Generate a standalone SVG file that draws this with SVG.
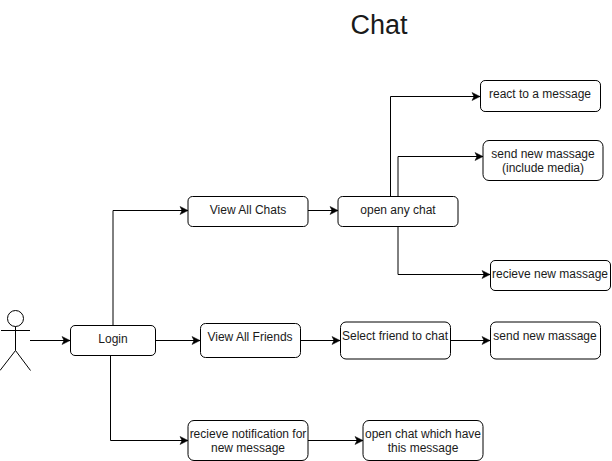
<svg xmlns="http://www.w3.org/2000/svg" width="612" height="461" viewBox="0 0 612 461">
<style>
text{font-family:"Liberation Sans",Arial,sans-serif;font-size:12px;fill:#1a1a1a;text-anchor:middle}
.n{fill:#fff;stroke:#000;stroke-width:1}
.c{fill:none;stroke:#000;stroke-width:1;marker-end:url(#a)}
.g{fill:none;stroke:#000;stroke-width:1}
</style>
<defs><marker id="a" markerUnits="userSpaceOnUse" markerWidth="10" markerHeight="10" refX="9" refY="5" orient="auto"><path d="M1 1L9 5L1 9L3 5Z" fill="#000" stroke="#000" stroke-width="0.5"/></marker></defs>
<rect width="612" height="461" fill="#fff"/>
<g id="connectors">
<path class="c" d="M30 340.5H70"/>
<path class="c" d="M113 325V210.5H188"/>
<path class="c" d="M155 340.5H200"/>
<path class="c" d="M110.5 355V440.5H188"/>
<path class="c" d="M308 210.5H338"/>
<path class="c" d="M300 340.5H340"/>
<path class="c" d="M308 440.5H363"/>
<path class="c" d="M450 340.5H490"/>
<path class="c" d="M390.5 196V96.5H480"/>
<path class="c" d="M398 196V156.5H483"/>
<path class="c" d="M398 226V274.5H490"/>
</g>
<g id="title"><text x="379" y="34" style="font-size:27px">Chat</text></g>
<g id="actor"><circle class="g" cx="15.5" cy="318.5" r="8"/><path class="g" d="M15.5 326.5V350.5M1 330.5H30M15.5 350.5L0 370.5M15.5 350.5L30.5 370.5"/></g>
<g id="login"><rect class="n" x="70.5" y="325.5" width="85" height="30" rx="4.5"/><text x="113" y="343">Login</text></g>
<g id="view-chats"><rect class="n" x="188" y="196.5" width="120" height="30" rx="4.5"/><text x="248" y="214">View All Chats</text></g>
<g id="view-friends"><rect class="n" x="200.5" y="323.5" width="100" height="34" rx="5"/><text x="250" y="341">View All Friends</text></g>
<g id="notification"><rect class="n" x="188" y="420.5" width="120" height="40" rx="6"/><text x="248" y="438">recieve notification for</text><text x="248" y="452">new message</text></g>
<g id="open-any"><rect class="n" x="338" y="196.5" width="120" height="30" rx="4.5"/><text x="398" y="214">open any chat</text></g>
<g id="select"><rect class="n" x="340.5" y="322" width="110" height="37" rx="5.5"/><text x="395" y="340">Select friend to chat</text></g>
<g id="open-chat"><rect class="n" x="363" y="420.5" width="120" height="40" rx="6"/><text x="423" y="438">open chat which have</text><text x="423" y="452">this message</text></g>
<g id="react"><rect class="n" x="480.5" y="80.5" width="120" height="31" rx="4.6"/><text x="540" y="98">react to a message</text></g>
<g id="send-media"><rect class="n" x="483" y="140.5" width="120" height="40" rx="6"/><text x="543" y="158">send new massage</text><text x="543" y="172">(include media)</text></g>
<g id="recieve"><rect class="n" x="490.5" y="260.5" width="120" height="30" rx="4.5"/><text x="550" y="278">recieve new massage</text></g>
<g id="send"><rect class="n" x="490.5" y="322" width="110" height="37" rx="5.5"/><text x="545" y="340">send new massage</text></g>
</svg>
